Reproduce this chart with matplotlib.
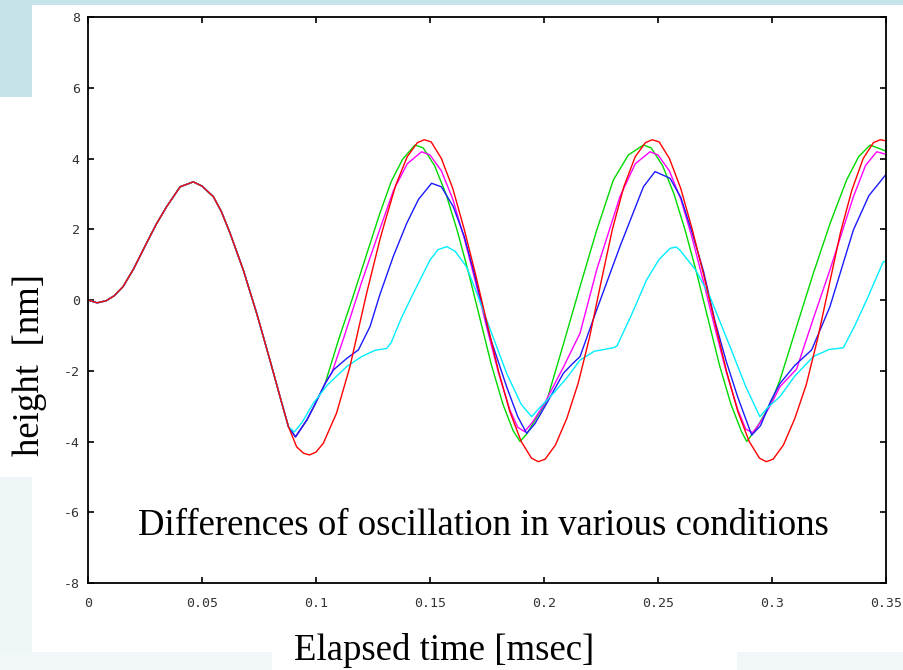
import matplotlib
matplotlib.use("Agg")
import matplotlib.pyplot as plt
from matplotlib.patches import Rectangle

plt.rcParams["axes.unicode_minus"] = False

# ---------------- data ----------------
common_t = [0.0, 0.004, 0.008, 0.0115, 0.0154, 0.02, 0.0257, 0.03, 0.0345, 0.0404,
            0.0462, 0.05, 0.055, 0.0585, 0.0623, 0.0681, 0.074, 0.0798, 0.0842, 0.0879]
common_v = [0.0, -0.08, -0.02, 0.12, 0.38, 0.88, 1.61, 2.15, 2.64, 3.2,
            3.34, 3.22, 2.92, 2.5, 1.89, 0.85, -0.38, -1.70, -2.73, -3.58]

red_t = [0.0915, 0.0945, 0.0971, 0.1, 0.1032, 0.109, 0.1149, 0.1222, 0.128, 0.13, 0.135, 0.14, 0.1445,
         0.1475, 0.1505, 0.155, 0.16, 0.165, 0.17, 0.175, 0.18, 0.185, 0.19, 0.1945,
         0.1975, 0.2005, 0.205, 0.21, 0.215, 0.22, 0.225, 0.23, 0.235, 0.24, 0.2445,
         0.2475, 0.2505, 0.255, 0.26, 0.265, 0.27, 0.275, 0.28, 0.285, 0.29, 0.2945,
         0.2975, 0.3005, 0.305, 0.31, 0.315, 0.32, 0.325, 0.33, 0.335, 0.34, 0.3445,
         0.3475, 0.35]
red_v = [-4.15, -4.33, -4.38, -4.3, -4.05, -3.2, -1.88, 0.19, 1.70, 2.16, 3.25, 4.05, 4.45,
         4.53, 4.47, 4.0, 3.15, 2.0, 0.72, -0.65, -2.0, -3.15, -4.0, -4.47,
         -4.57, -4.5, -4.1, -3.35, -2.35, -1.05, 0.5, 2.0, 3.2, 4.05, 4.45,
         4.53, 4.47, 4.0, 3.15, 2.0, 0.72, -0.65, -2.0, -3.15, -4.0, -4.47,
         -4.57, -4.5, -4.1, -3.35, -2.4, -1.1, 0.4, 1.9, 3.1, 4.0, 4.45,
         4.53, 4.5]

shared_t = [0.091, 0.096, 0.099, 0.104]
shared_v = [-3.87, -3.39, -3.02, -2.36]

green_t = [0.11, 0.116, 0.122, 0.128, 0.133, 0.138, 0.1434, 0.147, 0.152, 0.157,
           0.162, 0.167, 0.172, 0.177, 0.182, 0.1865, 0.1895, 0.1925, 0.1965, 0.2012,
           0.2085, 0.2158, 0.223, 0.2304, 0.237, 0.2436, 0.247, 0.252, 0.257, 0.262,
           0.267, 0.272, 0.277, 0.282, 0.2865, 0.2889, 0.2925, 0.297, 0.3005, 0.3035,
           0.3108, 0.3181, 0.3254, 0.3327, 0.338, 0.343, 0.3488, 0.35]
green_v = [-1.1, 0.05, 1.25, 2.45, 3.35, 3.98, 4.38, 4.3, 3.8, 3.0,
           1.95, 0.75, -0.55, -1.85, -2.95, -3.7, -4.0, -3.78, -3.35, -2.85,
           -1.25, 0.38, 1.95, 3.39, 4.1, 4.38, 4.3, 3.8, 3.0, 1.95,
           0.75, -0.55, -1.85, -2.95, -3.7, -4.0, -3.7, -3.2, -2.75, -2.26,
           -0.75, 0.75, 2.15, 3.39, 4.05, 4.38, 4.24, 4.2]

magenta_t = [0.107, 0.112, 0.12, 0.128, 0.134, 0.14, 0.1463, 0.15, 0.155, 0.16,
             0.165, 0.17, 0.175, 0.18, 0.185, 0.1885, 0.1915, 0.195, 0.2, 0.2085,
             0.2158, 0.2231, 0.2333, 0.24, 0.2465, 0.25, 0.255, 0.26, 0.265, 0.27,
             0.275, 0.28, 0.285, 0.2885, 0.2915, 0.295, 0.3, 0.3035, 0.3108, 0.318,
             0.3254, 0.3357, 0.341, 0.3459, 0.35]
magenta_v = [-2.05, -1.1, 0.5, 2.0, 3.1, 3.85, 4.19, 4.1, 3.65, 2.85,
             1.75, 0.5, -0.8, -2.05, -3.1, -3.6, -3.72, -3.45, -2.95, -1.9,
             -0.94, 0.85, 2.92, 3.85, 4.19, 4.1, 3.65, 2.85, 1.75, 0.5,
             -0.8, -2.05, -3.1, -3.65, -3.75, -3.45, -2.9, -2.45, -1.95, -0.55,
             0.85, 2.92, 3.8, 4.19, 4.12]

blue_t = [0.1076, 0.1135, 0.1186, 0.1237, 0.128, 0.134, 0.1398, 0.145, 0.1507, 0.155,
          0.1602, 0.165, 0.169, 0.1763, 0.1836, 0.1885, 0.1924, 0.196, 0.2012, 0.2085,
          0.2125, 0.2158, 0.2231, 0.2333, 0.2436, 0.2487, 0.2553, 0.26, 0.265, 0.27,
          0.275, 0.28, 0.285, 0.2911, 0.295, 0.2995, 0.3035, 0.31, 0.3174, 0.3254,
          0.3357, 0.3425, 0.35]
blue_v = [-1.98, -1.65, -1.41, -0.75, 0.15, 1.25, 2.17, 2.85, 3.3, 3.2,
          2.64, 1.8, 0.85, -1.04, -2.45, -3.3, -3.77, -3.5, -2.92, -2.07,
          -1.8, -1.6, -0.28, 1.51, 3.2, 3.63, 3.44, 2.9, 1.9, 0.8,
          -0.6, -1.75, -2.75, -3.82, -3.55, -2.85, -2.36, -1.85, -1.41, -0.19,
          1.98, 2.95, 3.55]

cyan_t = [0.0905, 0.094, 0.0988, 0.105, 0.1135, 0.12, 0.126, 0.131, 0.133, 0.1375,
          0.1427, 0.15, 0.1535, 0.1573, 0.161, 0.166, 0.1705, 0.1749, 0.1836, 0.19,
          0.1946, 0.198, 0.2041, 0.21, 0.2158, 0.222, 0.2304, 0.232, 0.2385, 0.245,
          0.2505, 0.2553, 0.258, 0.2596, 0.2665, 0.2728, 0.2816, 0.2885, 0.2947, 0.298,
          0.3035, 0.31, 0.3181, 0.325, 0.3313, 0.3365, 0.3415, 0.3488, 0.35]
cyan_v = [-3.73, -3.45, -2.92, -2.4, -1.88, -1.6, -1.42, -1.37, -1.2, -0.5,
          0.19, 1.13, 1.42, 1.51, 1.38, 0.94, 0.2, -0.57, -2.07, -2.95,
          -3.3, -3.05, -2.64, -2.2, -1.70, -1.45, -1.35, -1.3, -0.4, 0.57,
          1.15, 1.46, 1.5, 1.41, 0.85, 0.09, -1.32, -2.45, -3.3, -3.05,
          -2.73, -2.15, -1.6, -1.4, -1.35, -0.7, 0.0, 1.08, 1.1]

xticks = [0, 0.05, 0.1, 0.15, 0.2, 0.25, 0.3, 0.35]
xtick_labels = ["0", "0.05", "0.1", "0.15", "0.2", "0.25", "0.3", "0.35"]
yticks = [-8, -6, -4, -2, 0, 2, 4, 6, 8]

annotation = "Differences of oscillation in various conditions"
xlabel = "Elapsed time [msec]"
ylabel = "height  [nm]"

# ---------------- figure ----------------
W, H = 904, 670
fig = plt.figure(figsize=(W / 100, H / 100), dpi=100)
fig.patch.set_facecolor("white")

def px_rect(x0, y0, x1, y1, color):
    fig.patches.append(Rectangle((x0 / W, 1 - y1 / H), (x1 - x0) / W, (y1 - y0) / H,
                                 transform=fig.transFigure, facecolor=color,
                                 edgecolor="none", zorder=-10))

band = "#c5e3e8"
pale = "#eef6f8"
px_rect(0, 0, W, 5, band)
px_rect(0, 5, 32, 97, band)
px_rect(0, 477, 32, 652, pale)
px_rect(0, 652, 272, H, "#f1f7f9")
px_rect(737, 652, W, H, "#f1f7f9")

ax = fig.add_axes([88 / W, 1 - 583 / H, (886 - 88) / W, (583 - 17) / H])
ax.set_facecolor("white")

lw = 1.0
ax.plot(common_t + shared_t + green_t, common_v + shared_v + green_v, color="#00d800", lw=lw)
ax.plot(common_t + shared_t + magenta_t, common_v + shared_v + magenta_v, color="#ff00ff", lw=lw)
ax.plot(common_t + shared_t + blue_t, common_v + shared_v + blue_v, color="#1a1aff", lw=lw)
ax.plot(common_t + cyan_t, common_v + cyan_v, color="#00eeff", lw=lw)
ax.plot(common_t + red_t, common_v + red_v, color="#ff0000", lw=lw)

ax.set_xlim(0, 0.35)
ax.set_ylim(-8, 8)
ax.set_xticks(xticks)
ax.set_xticklabels(xtick_labels)
ax.set_yticks(yticks)
for sp in ax.spines.values():
    sp.set_linewidth(1.3)
    sp.set_color("black")
ax.tick_params(direction="in", length=4, width=1.2, top=True, right=True,
               labelsize=9.5, labelcolor="#333333")
ax.tick_params(axis="x", pad=10)
ax.tick_params(axis="y", pad=6)
for lab in ax.get_xticklabels() + ax.get_yticklabels():
    lab.set_fontfamily("DejaVu Sans Mono")

serif = ["Liberation Serif", "DejaVu Serif"]
ax.text(0.495, 0.085, annotation, transform=ax.transAxes, ha="center", va="baseline",
        fontsize=26.5, family=serif, color="black")
fig.text(444 / W, 1 - 660 / H, xlabel, ha="center", va="baseline",
         fontsize=26.5, family=serif, color="black")
fig.text(30 / W, 1 - 365 / H, ylabel, ha="center", va="center", rotation=90,
         fontsize=26.5, family=serif, color="black")

fig.savefig("out.png", dpi=100, facecolor=fig.get_facecolor())
